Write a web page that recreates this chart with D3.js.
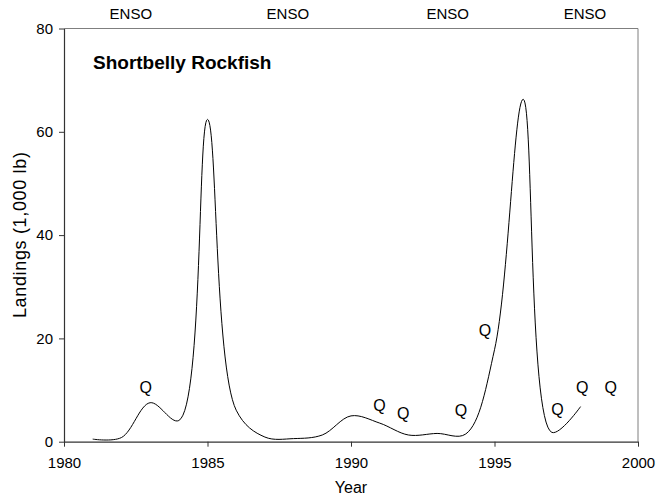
<!DOCTYPE html>
<html><head><meta charset="utf-8">
<script src="https://cdn.jsdelivr.net/npm/d3@7"></script>
<style>
html,body{margin:0;padding:0;background:#fff;}
text{font-family:"Liberation Sans",Arial,sans-serif;fill:#000;}
</style></head>
<body><svg id="chart" width="662" height="497"></svg>
<script>
const years = [1981,1982,1983,1984,1985,1986,1987,1988,1989,1990,1991,1992,1993,1994,1995,1996,1997,1998];
const landings = [0.5,0.8,7.55,4.1,62.4,6.1,0.9,0.6,1.3,5.0,3.6,1.3,1.6,1.5,17.8,66.3,1.8,6.8];
const qYears = [1982.85,1990.99,1991.82,1993.83,1994.67,1997.19,1998.06,1999.05];
const qValues = [10.6,7.1,5.6,6.1,21.6,6.3,10.5,10.5];
const ensoYears = [1982.33,1987.8,1993.37,1998.15];
const xTicks = [1980,1985,1990,1995,2000];
const yTicks = [0,20,40,60,80];
const title = "Shortbelly Rockfish";

const svg = d3.select("#chart");
const L=64,R=638,T=28.5,B=441.7;
const x = d3.scaleLinear().domain([1980,2000]).range([L,R]);
const y = d3.scaleLinear().domain([0,80]).range([B,T]);

// frame (top/right)
svg.append("path").attr("d",`M${L},${T}H${R}V${B}`).attr("fill","none").attr("stroke","#7f7f7f").attr("stroke-width",1);

const xa = svg.append("g").attr("transform",`translate(0,${B})`)
  .call(d3.axisBottom(x).tickValues(xTicks).tickFormat(d3.format("d")).tickSizeOuter(0).tickSizeInner(5).tickPadding(11));
const ya = svg.append("g").attr("transform",`translate(${L},0)`)
  .call(d3.axisLeft(y).tickValues(yTicks).tickSizeOuter(0).tickSizeInner(5).tickPadding(6));
[xa,ya].forEach(g=>{
  g.select(".domain").attr("stroke","#333").attr("stroke-width",1.2);
  g.selectAll(".tick line").attr("stroke","#333");
  g.selectAll(".tick text").attr("font-size",15).attr("font-family","Liberation Sans, Arial, sans-serif").attr("fill","#000");
});

// line
const line = d3.line().x((d,i)=>x(years[i])).y(d=>y(d)).curve(d3.curveCatmullRom.alpha(0.5));
svg.append("path").datum(landings).attr("d",line).attr("fill","none").attr("stroke","#000").attr("stroke-width",1);

// Q markers
svg.append("g").selectAll("text").data(qYears).join("text")
  .attr("x",(d)=>x(d)).attr("y",(d,i)=>y(qValues[i])).attr("dy","0.36em")
  .attr("text-anchor","middle").attr("font-size",16).text("Q");

// ENSO labels
svg.append("g").selectAll("text").data(ensoYears).join("text")
  .attr("x",d=>x(d)).attr("y",14).attr("dy","0.36em")
  .attr("text-anchor","middle").attr("font-size",15).text("ENSO");

// title
svg.append("text").attr("x",93).attr("y",69).attr("font-size",19).attr("font-weight","bold").text(title);

// axis titles
svg.append("text").attr("x",(L+R)/2).attr("y",487).attr("dy","0.36em").attr("text-anchor","middle").attr("font-size",16).text("Year");
svg.append("text").attr("transform",`translate(20,${(T+B)/2}) rotate(-90)`).attr("dy","0.36em").attr("text-anchor","middle").attr("font-size",18)
  .attr("textLength",166).attr("lengthAdjust","spacing").text("Landings (1,000 lb)");
</script></body></html>
